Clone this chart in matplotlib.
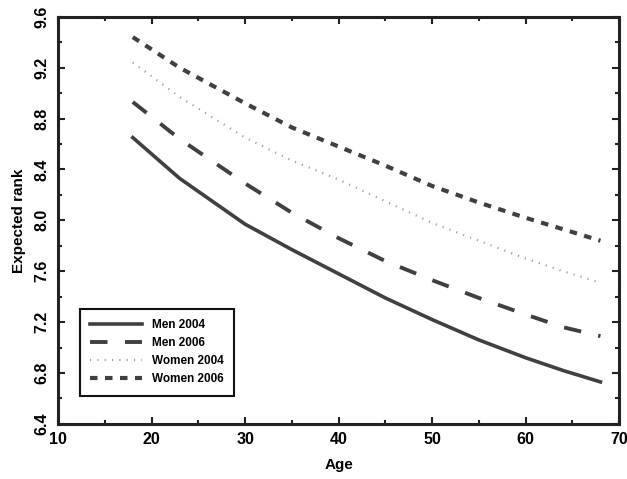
"""Expected rank by age, men and women, 2004 vs 2006."""

import matplotlib
matplotlib.use("Agg")
import matplotlib.pyplot as plt
from matplotlib.ticker import MultipleLocator, FormatStrFormatter

plt.rcParams["font.family"] = ["Liberation Sans", "DejaVu Sans"]
plt.rcParams["font.weight"] = "bold"

age = [18, 23, 30, 35, 40, 45, 50, 55, 60, 64, 68]
men_2004 = [8.65, 8.33, 7.97, 7.77, 7.58, 7.39, 7.22, 7.06, 6.92, 6.82, 6.73]
men_2006 = [8.93, 8.64, 8.29, 8.06, 7.86, 7.68, 7.53, 7.39, 7.26, 7.16, 7.09]
women_2004 = [9.24, 8.97, 8.65, 8.47, 8.32, 8.15, 7.98, 7.84, 7.70, 7.60, 7.51]
women_2006 = [9.44, 9.20, 8.92, 8.73, 8.58, 8.43, 8.27, 8.14, 8.02, 7.93, 7.84]

dark = "#404040"

fig = plt.figure(figsize=(6.27, 4.79), dpi=100)
ax = fig.add_axes([0.0925, 0.115, 0.895, 0.85])

ax.plot(age, men_2004, color=dark, lw=2.6, ls="-", label="Men 2004")
ax.plot(age, men_2006, color=dark, lw=2.8, ls=(0, (4.5, 4.5)), label="Men 2006")
ax.plot(age, women_2004, color="#9a9a9a", lw=1.6, ls=(0, (0.5, 2.8)), label="Women 2004")
ax.plot(age, women_2006, color=dark, lw=3.0, ls=(0, (1.8, 1.8)), label="Women 2006")

ax.set_xlim(10, 70)
ax.set_ylim(6.4, 9.6)
ax.xaxis.set_major_locator(MultipleLocator(10))
ax.xaxis.set_minor_locator(MultipleLocator(5))
ax.yaxis.set_major_locator(MultipleLocator(0.4))
ax.yaxis.set_minor_locator(MultipleLocator(0.2))
ax.yaxis.set_major_formatter(FormatStrFormatter("%.1f"))

ax.tick_params(which="both", direction="in", top=True, right=True, width=1.5, color="#222222")
ax.tick_params(which="major", length=5, labelsize=11.5, pad=6)
ax.tick_params(which="minor", length=3)
for lab in ax.get_yticklabels():
    lab.set_rotation(90)
    lab.set_va("center")
for sp in ax.spines.values():
    sp.set_linewidth(2.2)
    sp.set_color("#222222")

ax.set_xlabel("Age", fontsize=11, fontweight="bold", labelpad=8)
ax.set_ylabel("Expected rank", fontsize=11, fontweight="bold", labelpad=6)

leg = ax.legend(loc="lower left", bbox_to_anchor=(0.028, 0.055), fancybox=False,
                edgecolor="#111111", fontsize=8.5, handlelength=4.4,
                borderpad=0.9, labelspacing=0.5, framealpha=1)
leg.get_frame().set_linewidth(1.5)
for t in leg.get_texts():
    t.set_fontweight("bold")

fig.savefig("out.png", dpi=100)
